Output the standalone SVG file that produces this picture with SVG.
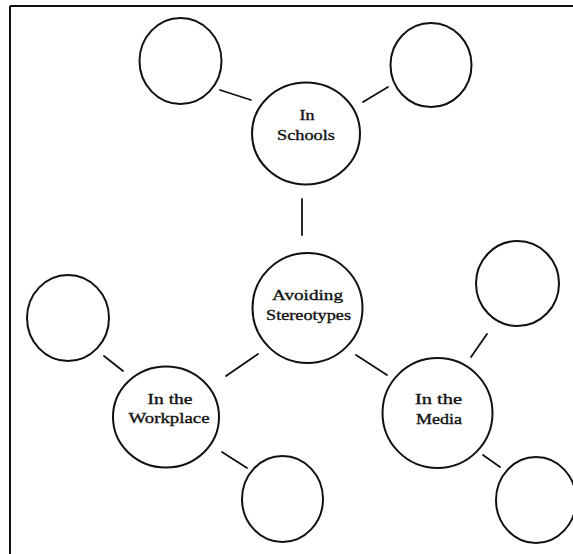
<svg xmlns="http://www.w3.org/2000/svg" width="573" height="554" viewBox="0 0 573 554">
<style>
.bg{fill:#fff}
.frame{stroke:#111;stroke-width:2;fill:none}
.node{fill:#fff;stroke:#111;stroke-width:2}
.conn line{stroke:#111;stroke-width:1.8;stroke-linecap:round}
.lbl{font-family:"Liberation Serif","Times New Roman",serif;font-size:15px;fill:#111;stroke:#111;stroke-width:0.35;text-anchor:middle}
</style>
<rect class="bg" x="0" y="0" width="573" height="554"/>
<g id="frame">
<line class="frame" x1="10" y1="6" x2="573" y2="6"/>
<line class="frame" x1="10" y1="6" x2="10" y2="554"/>
</g>
<g id="connectors" class="conn">
<line x1="220" y1="90" x2="251" y2="100"/>
<line x1="363" y1="102" x2="388" y2="87"/>
<line x1="302" y1="199" x2="302" y2="235"/>
<line x1="226" y1="376" x2="258" y2="354"/>
<line x1="356" y1="355" x2="387" y2="375"/>
<line x1="104" y1="356" x2="123" y2="371"/>
<line x1="222" y1="452" x2="247" y2="468"/>
<line x1="471" y1="357" x2="487" y2="334"/>
<line x1="483" y1="455" x2="500" y2="467"/>
</g>
<g id="schools-left"><ellipse class="node" cx="180.5" cy="61" rx="41" ry="43"/></g>
<g id="schools-right"><ellipse class="node" cx="431" cy="65" rx="40.5" ry="42"/></g>
<g id="in-schools">
<ellipse class="node" cx="306" cy="133.5" rx="54" ry="51"/>
<text class="lbl" x="307" y="120" textLength="15" lengthAdjust="spacingAndGlyphs">In</text>
<text class="lbl" x="306" y="140" textLength="58" lengthAdjust="spacingAndGlyphs">Schools</text>
</g>
<g id="avoiding-stereotypes">
<ellipse class="node" cx="307.5" cy="308" rx="55" ry="55"/>
<text class="lbl" x="307.5" y="300" textLength="71" lengthAdjust="spacingAndGlyphs">Avoiding</text>
<text class="lbl" x="308.5" y="320" textLength="85" lengthAdjust="spacingAndGlyphs">Stereotypes</text>
</g>
<g id="workplace-top"><ellipse class="node" cx="68" cy="318" rx="41" ry="43"/></g>
<g id="in-the-workplace">
<ellipse class="node" cx="166" cy="417" rx="53" ry="50.5"/>
<text class="lbl" x="170" y="404" textLength="45" lengthAdjust="spacingAndGlyphs">In the</text>
<text class="lbl" x="169" y="423" textLength="81" lengthAdjust="spacingAndGlyphs">Workplace</text>
</g>
<g id="workplace-bottom"><ellipse class="node" cx="282.5" cy="499" rx="40.5" ry="43"/></g>
<g id="media-top"><ellipse class="node" cx="517.5" cy="283.5" rx="41.5" ry="42.5"/></g>
<g id="in-the-media">
<ellipse class="node" cx="437.5" cy="413" rx="55" ry="55"/>
<text class="lbl" x="438.5" y="404" textLength="47" lengthAdjust="spacingAndGlyphs">In the</text>
<text class="lbl" x="439" y="424" textLength="46" lengthAdjust="spacingAndGlyphs">Media</text>
</g>
<g id="media-bottom"><ellipse class="node" cx="536" cy="500" rx="40" ry="43"/></g>
</svg>
